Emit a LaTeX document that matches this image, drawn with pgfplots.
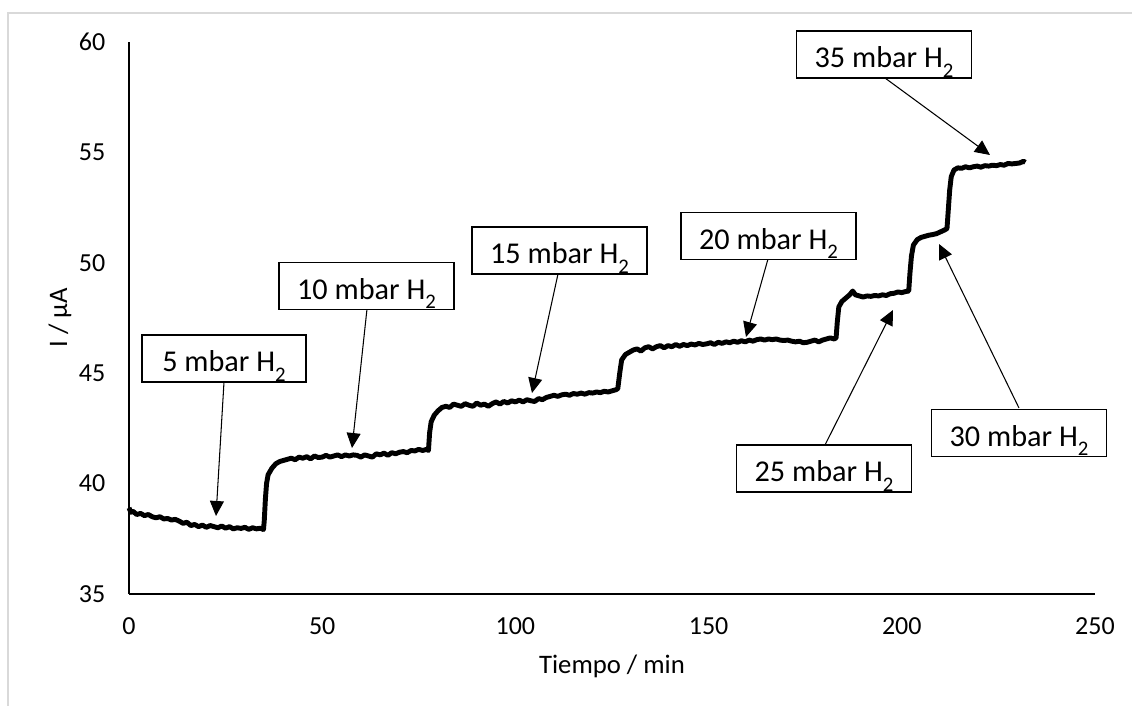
\documentclass[border=0pt]{standalone}
\usepackage{fontspec}
\setmainfont{Carlito}
\usepackage{pgfplots}
\pgfplotsset{compat=1.18}
\usetikzlibrary{arrows.meta}
\definecolor{framegray}{RGB}{217,217,217}
\newcommand{\Hsub}{H\raisebox{-0.3em}{\fontsize{5.9}{6}\selectfont 2}}
\begin{document}
\begin{tikzpicture}[x=0.1mm,y=0.1mm]
\path[use as bounding box] (0,0) rectangle (1132,706);
\draw[framegray,line width=0.12mm] (8,-5) -- (8,693) -- (1140,693);
\begin{axis}[
  at={(12.9mm,11.2mm)}, anchor=south west,
  scale only axis, width=96.6mm, height=55.2mm,
  xmin=0, xmax=250, ymin=35, ymax=60,
  xtick={0,50,...,250}, ytick={35,40,...,60},
  axis lines=left, axis line style={-, line width=0.5pt, black},
  major tick length=0pt,
  /pgf/number format/assume math mode=true,
  tick label style={font=\fontsize{7.4}{8}\selectfont},
  xticklabel style={anchor=north, inner sep=0pt, yshift=-2.3mm},
  yticklabel style={anchor=east, inner sep=0pt, xshift=-2.3mm},
  xlabel={Tiempo / min}, ylabel={I / µA},
  label style={font=\fontsize{7.6}{9}\selectfont},
  xlabel style={at={(axis description cs:0.5,-0.1304)}, anchor=center},
  ylabel style={at={(axis description cs:-0.0714,0.5)}, anchor=center},
  clip=false,
]
\addplot[black, line width=1.4pt, line join=round] coordinates {
(0,38.9)(0.5,38.7)(1,38.75)(2,38.6)(3,38.65)(4,38.55)(5,38.6)(6,38.5)(7,38.45)(8,38.5)(9,38.4)
(10,38.42)(11,38.35)(12,38.38)(13,38.3)(14,38.2)(15,38.25)(16,38.1)(17,38.15)(18,38.05)(19,38.12)
(20,38.02)(21,38.1)(22,38.05)(23,38.0)(24,38.08)(25,37.98)(26,38.05)(27,37.95)(28,38.0)(29,37.97)
(30,38.02)(31,37.93)(32,38.0)(33,37.95)(34,37.98)(34.8,37.92)(35,38.3)(35.3,39.3)(35.6,40.0)(36,40.4)
(37,40.7)(38,40.9)(39,41.0)(40,41.05)(41,41.1)(42,41.15)(43,41.08)(44,41.2)(45,41.15)(46,41.22)
(47,41.12)(48,41.25)(49,41.18)(50,41.2)(51,41.28)(52,41.2)(53,41.25)(54,41.3)(55,41.22)(56,41.3)
(57,41.25)(58,41.3)(59,41.28)(60,41.2)(61,41.3)(62,41.25)(63,41.2)(64,41.35)(65,41.3)(66,41.38)
(67,41.28)(68,41.4)(69,41.35)(70,41.42)(71,41.45)(72,41.4)(73,41.5)(74,41.48)(75,41.55)(76,41.5)
(77,41.55)(77.5,41.5)(77.8,42.3)(78.2,42.8)(79,43.1)(80,43.3)(81,43.45)(82,43.5)(83,43.45)(84,43.6)
(85,43.55)(86,43.5)(87,43.62)(88,43.55)(89,43.5)(90,43.65)(91,43.55)(92,43.6)(93,43.5)(94,43.62)
(95,43.7)(96,43.6)(97,43.72)(98,43.65)(99,43.75)(100,43.7)(101,43.78)(102,43.7)(103,43.8)(104,43.75)
(105,43.72)(106,43.85)(107,43.8)(108,43.9)(109,43.95)(110,44.0)(111,43.95)(112,44.02)(113,44.05)
(114,44.0)(115,44.08)(116,44.05)(117,44.1)(118,44.05)(119,44.12)(120,44.1)(121,44.15)(122,44.12)
(123,44.18)(124,44.15)(125,44.2)(126,44.25)(126.5,44.3)(127,45.0)(127.5,45.6)(128.5,45.85)(129.5,45.95)
(130.5,46.05)(131.5,46.1)(132.5,46.0)(133.5,46.15)(134.5,46.2)(135.5,46.1)(136.5,46.2)(137.5,46.25)
(138.5,46.15)(139.5,46.25)(140.5,46.2)(141.5,46.3)(142.5,46.22)(143.5,46.3)(144.5,46.25)(145.5,46.32)
(146.5,46.28)(147.5,46.35)(148.5,46.3)(149.5,46.33)(150.5,46.38)(151.5,46.3)(152.5,46.4)(153.5,46.35)
(154.5,46.42)(155.5,46.38)(156.5,46.45)(157.5,46.4)(158.5,46.47)(159.5,46.42)(160.5,46.5)(161.5,46.45)
(162.5,46.52)(163.5,46.55)(164.5,46.5)(165.5,46.55)(166.5,46.52)(167.5,46.55)(168.5,46.5)(169.5,46.48)
(170.5,46.5)(171.5,46.45)(172.5,46.42)(173.5,46.45)(174.5,46.38)(175.5,46.4)(176.5,46.45)(177.5,46.5)
(178.5,46.42)(179.5,46.5)(180.5,46.55)(181.5,46.6)(182.5,46.55)(183,46.6)(183.3,47.3)(183.7,48.0)
(184.5,48.25)(185.5,48.4)(186.5,48.55)(187.3,48.72)(188,48.55)(189,48.5)(190,48.45)(191,48.5)
(192,48.48)(193,48.52)(194,48.5)(195,48.55)(196,48.52)(197,48.6)(198,48.62)(199,48.68)(200,48.65)
(201,48.7)(201.8,48.72)(202.1,49.5)(202.5,50.3)(203,50.8)(204,51.05)(205,51.15)(206,51.2)(207,51.25)
(208,51.28)(209,51.32)(210,51.4)(211,51.48)(211.7,51.55)(212,52.3)(212.4,53.3)(212.8,53.9)(213.5,54.2)
(214.5,54.3)(215.5,54.28)(216.5,54.35)(217.5,54.3)(218.5,54.35)(219.5,54.38)(220.5,54.33)(221.5,54.4)
(222.5,54.38)(223.5,54.42)(224.5,54.4)(225.5,54.45)(226.5,54.42)(227.5,54.5)(228.5,54.48)(229.5,54.5)
(230.5,54.52)(231.5,54.6)(232,54.55)
};
\end{axis}
\tikzset{lbl/.style={draw=black, line width=0.35pt, fill=white, inner xsep=0pt, inner ysep=0pt,
  minimum width=17.5mm, text height=3.7mm, text depth=1.0mm, font=\fontsize{8.6}{10}\selectfont},
  arr/.style={line width=0.3pt, -{Triangle[length=1.5mm,width=1.4mm]}}}
\draw[arr] (224,324) -- (216,190);
\draw[arr] (367,397) -- (352,258);
\draw[arr] (558,432) -- (532,313);
\draw[arr] (768,447) -- (746,369);
\draw[arr] (825,261) -- (893,396);
\draw[arr] (1019,298) -- (939,462);
\draw[arr] (885,628) -- (990,551);
\node[lbl, minimum width=16.4mm] at (224,347.5) {5 mbar \Hsub};
\node[lbl] at (366.5,420) {10 mbar \Hsub};
\node[lbl] at (559.5,455.5) {15 mbar \Hsub};
\node[lbl] at (768.5,470) {20 mbar \Hsub};
\node[lbl] at (824,237.5) {25 mbar \Hsub};
\node[lbl] at (1019,273) {30 mbar \Hsub};
\node[lbl] at (884,651.5) {35 mbar \Hsub};
\end{tikzpicture}
\end{document}
